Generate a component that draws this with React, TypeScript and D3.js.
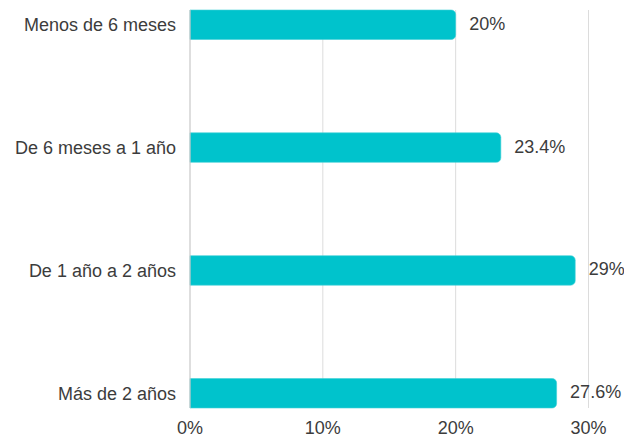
import React from "react";
import * as d3 from "d3";

const categories = ["Menos de 6 meses", "De 6 meses a 1 año", "De 1 año a 2 años", "Más de 2 años"];
const values = [20, 23.4, 29, 27.6];
const valueLabels = ["20%", "23.4%", "29%", "27.6%"];
const ticks = [0, 10, 20, 30];

const W = 624;
const H = 437;
const FONT = "'Liberation Sans', Arial, sans-serif";

export default function App() {
  const x = d3.scaleLinear().domain([0, 30]).range([190, 588.5]);
  const y = d3
    .scaleBand<string>()
    .domain(categories)
    .range([10, 408])
    .paddingInner(0.76)
    .paddingOuter(0);
  const bw = y.bandwidth();
  const r = 4.5;

  const barPath = (x0: number, x1: number, y0: number, h: number) => {
    const p = d3.path();
    p.moveTo(x0, y0);
    p.lineTo(x1 - r, y0);
    p.arcTo(x1, y0, x1, y0 + r, r);
    p.lineTo(x1, y0 + h - r);
    p.arcTo(x1, y0 + h, x1 - r, y0 + h, r);
    p.lineTo(x0, y0 + h);
    p.closePath();
    return p.toString();
  };

  return (
    <div style={{ position: "absolute", left: 0, top: 0 }}>
      <svg width={W} height={H} style={{ display: "block", background: "#fff" }}>
        {ticks
          .filter((t) => t > 0)
          .map((t) => (
            <line key={t} x1={x(t)} x2={x(t)} y1={10} y2={408} stroke="#dcdcdc" strokeWidth={1} />
          ))}
        {categories.map((c, i) => (
          <path
            key={c}
            d={barPath(x(0), x(values[i]), y(c)!, bw)}
            fill="#00c3cc"
            stroke="#3fd0d6"
            strokeWidth={0.6}
          />
        ))}
        <line x1={x(0)} x2={x(0)} y1={10} y2={408} stroke="#c8c8c8" strokeWidth={1.2} />
        {categories.map((c) => (
          <text
            key={c}
            x={x(0) - 14}
            y={y(c)! + bw / 2}
            dy="0.36em"
            textAnchor="end"
            fontFamily={FONT}
            fontSize={18}
            fill="#3c3c3c"
          >
            {c}
          </text>
        ))}
        {categories.map((c, i) => (
          <text
            key={c}
            x={x(values[i]) + 13.5}
            y={y(c)! + bw / 2 - 1.5}
            dy="0.36em"
            textAnchor="start"
            fontFamily={FONT}
            fontSize={18}
            fill="#3c3c3c"
          >
            {valueLabels[i]}
          </text>
        ))}
        {ticks.map((t) => (
          <text
            key={t}
            x={x(t)}
            y={433.5}
            textAnchor="middle"
            fontFamily={FONT}
            fontSize={18}
            fill="#3c3c3c"
          >
            {t + "%"}
          </text>
        ))}
      </svg>
    </div>
  );
}
